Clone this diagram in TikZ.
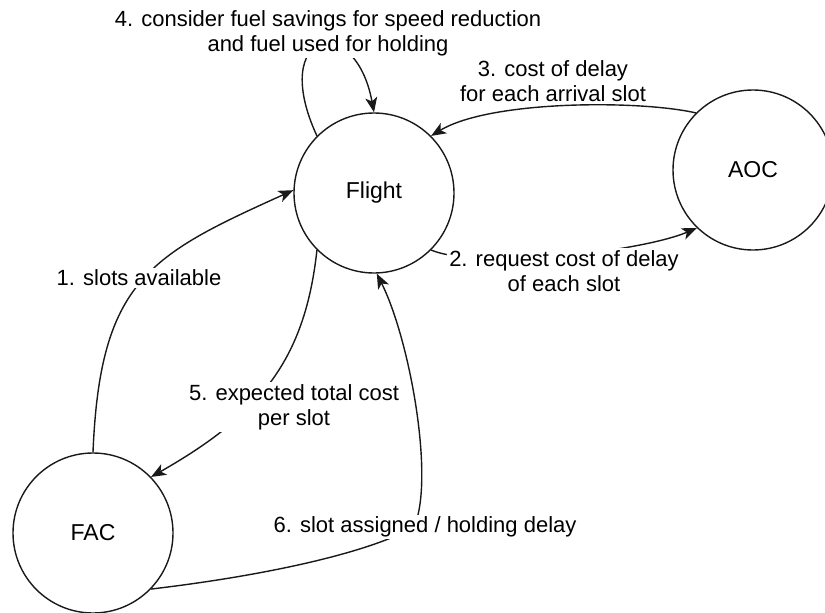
\documentclass[tikz,border=0pt]{standalone}
\usepackage{fontspec}
\setmainfont{Liberation Sans}
\usetikzlibrary{arrows.meta}
\begin{document}
\begin{tikzpicture}[x=1pt,y=-1pt,
  state/.style={circle, draw=black!90, line width=1.4pt, minimum size=160pt,
    inner sep=0pt, font=\fontsize{23}{27}\selectfont},
  flow/.style={draw=black!90, line width=1.4pt,
    -{Stealth[length=15pt,width=12pt,inset=4pt]}},
  lbl/.style={fill=white, inner sep=2pt, align=center,
    font=\fontsize{22}{25}\selectfont}]
\useasboundingbox (0,0) rectangle (825,613);

% states
\node[state] (Flight) at (374,193) {Flight};
\node[state] (AOC)    at (753,170) {AOC};
\node[state] (FAC)    at (93,533)  {FAC};

% message flows
\draw[flow] (FAC.90) .. controls (100,280) and (150,255) .. (Flight.178);
\draw[flow] (Flight.-45) .. controls (480,270) and (640,252) .. (AOC.226);
\draw[flow] (AOC.135) .. controls (640,100) and (490,100) .. (Flight.45);
\draw[flow] (Flight.135) .. controls (268,30) and (355,10) .. (Flight.90);
\draw[flow] (Flight.225) .. controls (305,360) and (260,415) .. (FAC.44);
\coordinate (m6) at (414,527);
\draw[flow] (FAC.-44) .. controls (270,575) and (370,552) .. (m6)
  .. controls (435,480) and (410,340) .. (Flight.-88);

% flow labels
\node[lbl] (l1) at (139,278) {1. slots available};
\node[lbl] (l2) at (564,271) {2. request cost of delay\\of each slot};
\node[lbl] (l3) at (553,81)  {3. cost of delay\\for each arrival slot};
\node[lbl] (l4) at (328,33)  {4. consider fuel savings for speed reduction\\and fuel used for holding};
\node[lbl] (l5) at (294,407) {5. expected total cost\\per slot};
\node[lbl] (l6) at (425,527) {6. slot assigned / holding delay};
\end{tikzpicture}
\end{document}
